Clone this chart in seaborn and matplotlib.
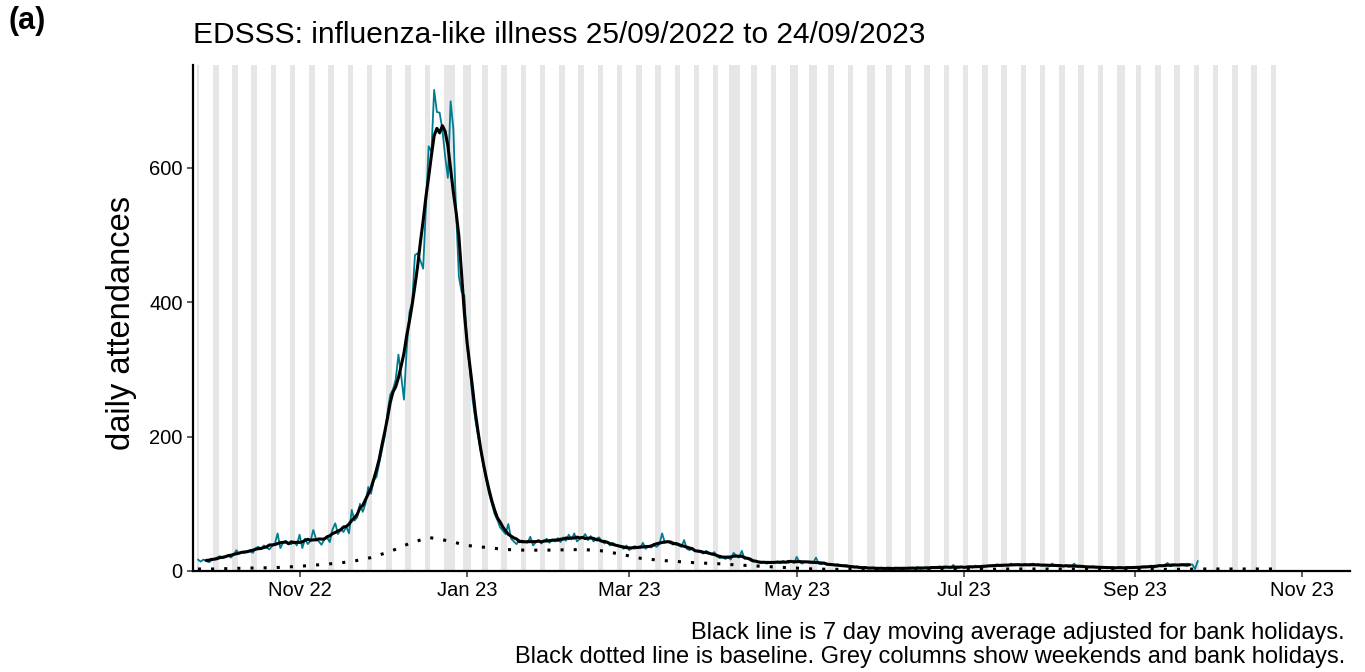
import numpy as np
import pandas as pd
import seaborn as sns
import matplotlib.pyplot as plt
import matplotlib.dates as mdates

#  Daily ILI attendances, 25/09/2022 (Sunday) onwards, one week per row
start_date = '2022-09-25'
daily_ili = [
    17, 14, 17, 15, 13, 16, 18,
    20, 22, 19, 21, 23, 20, 24,
    31, 26, 28, 27, 30, 29, 27,
    34, 36, 33, 38, 35, 32, 37,
    40, 56, 34, 42, 45, 41, 40,
    44, 38, 54, 34, 48, 40, 45,
    61, 48, 44, 39, 47, 50, 43,
    62, 71, 55, 62, 58, 66, 56,
    91, 75, 80, 100, 88, 100, 125,
    115, 135, 140, 160, 180, 200, 235,
    262, 270, 285, 322, 290, 255, 330,
    385, 400, 470, 473, 462, 450, 540,
    632, 624, 716, 683, 682, 657, 617,
    585, 699, 657, 533, 438, 415, 410,
    335, 300, 255, 225, 200, 178, 155,
    135, 115, 100, 85, 76, 65, 60,
    55, 70, 48, 44, 40, 46, 42,
    44, 42, 51, 38, 43, 46, 41,
    45, 48, 42, 47, 44, 49, 43,
    50, 45, 54, 47, 56, 44, 48,
    49, 55, 46, 52, 44, 48, 50,
    45, 41, 44, 38, 42, 39, 37,
    36, 33, 38, 31, 35, 33, 36,
    34, 42, 33, 37, 35, 38, 36,
    40, 56, 42, 44, 41, 43, 39,
    38, 36, 46, 33, 31, 34, 30,
    29, 28, 26, 30, 27, 25, 28,
    22, 19, 21, 18, 20, 17, 27,
    23, 20, 30, 18, 19, 16, 14,
    15, 13, 12, 14, 11, 12, 13,
    13, 14, 12, 15, 13, 12, 14,
    12, 21, 13, 11, 14, 13, 12,
    12, 20, 11, 10, 12, 11, 9,
    9, 8, 10, 7, 8, 9, 7,
    6, 5, 7, 4, 5, 6, 4,
    4, 5, 3, 4, 5, 3, 4,
    4, 3, 5, 4, 3, 5, 4,
    3, 5, 4, 6, 3, 4, 5,
    5, 4, 6, 5, 7, 4, 5,
    6, 5, 9, 4, 5, 6, 5,
    6, 7, 5, 8, 6, 7, 5,
    8, 7, 9, 8, 10, 7, 8,
    9, 8, 11, 9, 10, 8, 9,
    10, 9, 8, 11, 9, 10, 8,
    8, 9, 7, 11, 8, 7, 9,
    7, 8, 6, 7, 11, 6, 7,
    6, 7, 5, 6, 7, 5, 6,
    5, 6, 4, 5, 6, 4, 5,
    5, 4, 6, 5, 4, 6, 5,
    6, 5, 7, 6, 8, 5, 7,
    8, 7, 9, 12, 7, 8, 9,
    9, 10, 8, 11, 9, 10, 3,
    15,
]

#  Weekly baseline from the same Sunday
baseline_weekly = [
    3, 3, 4, 4.5, 5, 6.5, 8.5, 11, 14, 20, 29, 41, 50, 45, 38, 35,
    32, 31, 31, 31.5, 32, 30, 25, 19, 16, 14, 12, 11, 9, 7.5, 6, 4.5,
    3, 2.5, 2.5, 2.5, 2, 2, 2, 2, 2.5, 2.5, 3, 3, 3, 3, 3, 3,
    2.5, 2.5, 2.5, 2.5, 3, 3, 3, 3, 3,
]

bank_holidays = ['2022-12-26', '2022-12-27', '2023-01-02', '2023-04-07',
                 '2023-04-10', '2023-05-01', '2023-05-08', '2023-05-29',
                 '2023-08-28']
columns_end = '2023-10-22'
x_ticks = ['2022-11-01', '2023-01-01', '2023-03-01', '2023-05-01',
           '2023-07-01', '2023-09-01', '2023-11-01']
y_ticks = [0, 200, 400, 600]

title = 'EDSSS: influenza-like illness 25/09/2022 to 24/09/2023'
note1 = 'Black line is 7 day moving average adjusted for bank holidays.'
note2 = 'Black dotted line is baseline. Grey columns show weekends and bank holidays.'

#  Таблицы
df = pd.DataFrame({'date': pd.date_range(start_date, periods=len(daily_ili), freq='D'),
                   'count': daily_ili})
df['ma7'] = df['count'].rolling(7, center=True).mean()
base_df = pd.DataFrame({'date': pd.date_range(start_date, periods=len(baseline_weekly), freq='7D'),
                        'baseline': baseline_weekly})

grey_days = pd.date_range(start_date, columns_end, freq='D')
grey_mask = (grey_days.dayofweek >= 5) | grey_days.isin(pd.to_datetime(bank_holidays))

sns.set_theme(style='white')
plt.rcParams['font.family'] = ['Liberation Sans', 'DejaVu Sans']
plt.rcParams['text.color'] = 'black'
plt.rcParams['axes.labelcolor'] = 'black'

fig = plt.figure(figsize=(13.65, 6.72), dpi=100)
ax = fig.add_axes([193 / 1365, 1 - 571 / 672, (1350 - 193) / 1365, (571 - 65) / 672])

ax.bar(grey_days[grey_mask], 800, width=1, color='#e6e6e6', linewidth=0, zorder=0)

sns.lineplot(data=df, x='date', y='count', color='#007C91', lw=1.3, ax=ax, zorder=2)
sns.lineplot(data=base_df, x='date', y='baseline', color='black', lw=2.2,
             linestyle=(0, (1, 3.3)), ax=ax, zorder=3)
sns.lineplot(data=df, x='date', y='ma7', color='black', lw=2.2, ax=ax, zorder=4)

ax.set_xlim(pd.Timestamp('2022-09-23 05:00'), pd.Timestamp('2023-11-18 10:00'))
ax.set_ylim(0, 753)
ax.set_xticks(pd.to_datetime(x_ticks))
ax.xaxis.set_major_formatter(mdates.DateFormatter('%b %y'))
ax.set_yticks(y_ticks)
ax.set_xlabel('')
ax.set_ylabel('daily attendances', fontsize=23.5)
ax.yaxis.set_label_coords(-0.048, 0.49)

for s in ['top', 'right']:
    ax.spines[s].set_visible(False)
for s in ['left', 'bottom']:
    ax.spines[s].set_color('black')
    ax.spines[s].set_linewidth(1.6)
ax.tick_params(bottom=True, left=True, length=4.5, width=1.1, color='#333333',
               labelsize=14.5, labelcolor='black', pad=3)

fig.text(193 / 1365, 1 - 35 / 672, title, ha='left', va='center', fontsize=21.5)
fig.text(8 / 1365, 1 - 21 / 672, '(a)', ha='left', va='center', fontsize=22, fontweight='bold')
fig.text(1345 / 1365, 1 - 633 / 672, note1, ha='right', va='center', fontsize=17)
fig.text(1345 / 1365, 1 - 657 / 672, note2, ha='right', va='center', fontsize=17)

fig.savefig('out.png', dpi=100)
